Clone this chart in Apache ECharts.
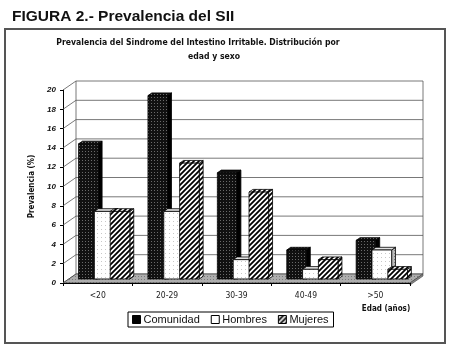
<!DOCTYPE html>
<html>
<head>
<meta charset="utf-8">
<script src="https://cdn.jsdelivr.net/npm/echarts@6/dist/echarts.min.js"></script>
<style>
  html, body { margin: 0; padding: 0; background: #fff; }
  #chart { width: 450px; height: 352px; }
</style>
</head>
<body>
<div id="chart"></div>
<script>
// data
const categories = ['<20', '20-29', '30-39', '40-49', '>50'];
const comunidad = [14, 19, 11, 3, 4];
const hombres = [7, 7, 2, 1, 3];
const mujeres = [7, 12, 9, 2, 1];
const yTicks = [0, 2, 4, 6, 8, 10, 12, 14, 16, 18, 20];

// 3D depth of the plot (front plane -> back wall), pixels
const DX = 13;
const DY = -9;
const FRONT = 0.45; // bar front face, fraction of depth
const BACK = 0.75;  // bar back face

const NARROW = '"DejaVu Sans Condensed", "Liberation Sans", sans-serif';

function makePattern(size, draw) {
  const c = document.createElement('canvas');
  c.width = c.height = size;
  const ctx = c.getContext('2d');
  draw(ctx, size);
  return { image: c, repeat: 'repeat' };
}

const dotsDark = makePattern(3, (ctx, s) => {
  ctx.fillStyle = '#111'; ctx.fillRect(0, 0, s, s);
  ctx.fillStyle = '#6a6a6a'; ctx.fillRect(1, 1, 1, 1);
});
const dotsLight = makePattern(4, (ctx, s) => {
  ctx.fillStyle = '#fff'; ctx.fillRect(0, 0, s, s);
  ctx.fillStyle = '#c8c8c8'; ctx.fillRect(1, 1, 1, 1);
});
const dotsGrey = makePattern(3, (ctx, s) => {
  ctx.fillStyle = '#bbb'; ctx.fillRect(0, 0, s, s);
  ctx.fillStyle = '#777'; ctx.fillRect(1, 1, 1, 1);
});
const floorPat = makePattern(3, (ctx, s) => {
  ctx.fillStyle = '#adadad'; ctx.fillRect(0, 0, s, s);
  ctx.fillStyle = '#7a7a7a'; ctx.fillRect(0, 0, 1, 1);
});
const hatch = makePattern(5, (ctx, s) => {
  ctx.fillStyle = '#fff'; ctx.fillRect(0, 0, s, s);
  ctx.strokeStyle = '#000'; ctx.lineWidth = 1.8;
  ctx.beginPath();
  ctx.moveTo(0, s); ctx.lineTo(s, 0);
  ctx.moveTo(-1, 1); ctx.lineTo(1, -1);
  ctx.moveTo(s - 1, s + 1); ctx.lineTo(s + 1, s - 1);
  ctx.stroke();
});

const barFills = [
  { front: dotsDark, top: dotsDark, side: '#000' },
  { front: dotsLight, top: '#e2e2e2', side: dotsGrey },
  { front: hatch, top: hatch, side: hatch }
];

function bar3d(slot) {
  return function (params, api) {
    const i = api.value(0);
    const v = api.value(1);
    const band = api.size([1, 0])[0];
    const cx = api.coord([i, 0])[0];
    const left = cx - band / 2 + band * (0.14 + slot * 0.228);
    const w = band * 0.283;
    const yTop = api.coord([i, v])[1];
    const yBot = api.coord([i, 0])[1];
    const ox = DX * FRONT, oy = DY * FRONT;
    const bx = DX * BACK, by = DY * BACK;
    const f = barFills[slot];
    const st = { stroke: '#000', lineWidth: 0.8 };
    return {
      type: 'group',
      children: [
        {
          type: 'polygon',
          shape: { points: [[left + ox + w, yTop + oy], [left + bx + w, yTop + by], [left + bx + w, yBot + by], [left + ox + w, yBot + oy]] },
          style: Object.assign({ fill: f.side }, st)
        },
        {
          type: 'polygon',
          shape: { points: [[left + ox, yTop + oy], [left + ox + w, yTop + oy], [left + bx + w, yTop + by], [left + bx, yTop + by]] },
          style: Object.assign({ fill: f.top }, st)
        },
        {
          type: 'rect',
          shape: { x: left + ox, y: yTop + oy, width: w, height: yBot - yTop },
          style: Object.assign({ fill: f.front }, st)
        }
      ]
    };
  };
}

const chart = echarts.init(document.getElementById('chart'));

const option = {
  animation: false,
  backgroundColor: '#fff',
  title: {
    text: 'FIGURA 2.- Prevalencia del SII',
    left: 7,
    top: 4,
    textStyle: { fontFamily: 'Liberation Sans', fontWeight: 'bold', fontSize: 15.5, color: '#111' }
  },
  graphic: [
    {
      type: 'rect',
      shape: { x: 5, y: 29, width: 440, height: 314 },
      style: { fill: 'none', stroke: '#555', lineWidth: 2 },
      z: -1
    },
    {
      type: 'text',
      x: 198, y: 43,
      style: {
        text: 'Prevalencia del Sindrome del Intestino Irritable. Distribución por',
        align: 'center', verticalAlign: 'middle',
        font: 'bold 8.6px ' + NARROW,
        fill: '#111'
      }
    },
    {
      type: 'text',
      x: 214, y: 57,
      style: {
        text: 'edad y sexo',
        align: 'center', verticalAlign: 'middle',
        font: 'bold 8.6px ' + NARROW,
        fill: '#111'
      }
    },
    {
      type: 'text',
      x: 386, y: 309,
      style: {
        text: 'Edad (años)',
        align: 'center', verticalAlign: 'middle',
        font: 'bold 8px ' + NARROW,
        fill: '#111'
      }
    }
  ],
  legend: {
    left: 128,
    top: 312,
    data: [
      { name: 'Comunidad', itemStyle: { color: '#000', borderColor: '#000', borderWidth: 1 } },
      { name: 'Hombres', itemStyle: { color: '#fff', borderColor: '#000', borderWidth: 1 } },
      { name: 'Mujeres', itemStyle: { color: hatch, borderColor: '#000', borderWidth: 1 } }
    ],
    icon: 'rect',
    itemWidth: 8,
    itemHeight: 8,
    itemGap: 11,
    borderColor: '#000',
    borderWidth: 1,
    padding: [2, 5, 2, 4],
    textStyle: { fontFamily: 'Liberation Sans', fontSize: 11, color: '#111', padding: [0, 0, 0, -2] }
  },
  grid: {
    left: 63,
    right: 40,
    top: 90,
    bottom: 69
  },
  xAxis: {
    type: 'category',
    data: categories,
    axisLine: { show: true, lineStyle: { color: '#000', width: 1 } },
    axisTick: { show: true, length: 3, lineStyle: { color: '#000' } },
    axisLabel: { fontFamily: NARROW, fontSize: 8.5, color: '#222', margin: 8 },
    z: 10
  },
  yAxis: {
    type: 'value',
    min: 0,
    max: 20,
    interval: 2,
    name: 'Prevalencia (%)',
    nameLocation: 'middle',
    nameGap: 27,
    nameRotate: 90,
    nameTextStyle: { fontFamily: NARROW, fontWeight: 'bold', fontSize: 8, color: '#111' },
    axisLine: { show: true, lineStyle: { color: '#000', width: 1 } },
    axisTick: { show: true, length: 3, lineStyle: { color: '#000' } },
    axisLabel: { fontFamily: 'Liberation Sans', fontWeight: 'bold', fontStyle: 'italic', fontSize: 8, color: '#111', margin: 7 },
    splitLine: { show: false }
  },
  series: [
    {
      // gridlines on side and back wall
      type: 'custom',
      silent: true,
      data: yTicks.map(v => [0, v]),
      renderItem: function (params, api) {
        const cs = params.coordSys;
        const y = api.coord([0, api.value(1)])[1];
        const x0 = cs.x, x1 = cs.x + cs.width;
        return {
          type: 'polyline',
          shape: { points: [[x0, y], [x0 + DX, y + DY], [x1 + DX, y + DY]] },
          style: { stroke: '#555', lineWidth: 0.8, fill: 'none' }
        };
      }
    },
    {
      // back wall edges and floor
      type: 'custom',
      silent: true,
      data: [[0, 0]],
      renderItem: function (params, api) {
        const cs = params.coordSys;
        const x0 = cs.x, x1 = cs.x + cs.width;
        const y0 = api.coord([0, yTicks[0]])[1];
        const yMax = api.coord([0, yTicks[yTicks.length - 1]])[1];
        return {
          type: 'group',
          children: [
            { type: 'line', shape: { x1: x0 + DX, y1: yMax + DY, x2: x0 + DX, y2: y0 + DY }, style: { stroke: '#555', lineWidth: 0.8 } },
            { type: 'line', shape: { x1: x1 + DX, y1: yMax + DY, x2: x1 + DX, y2: y0 + DY }, style: { stroke: '#555', lineWidth: 0.8 } },
            {
              type: 'polygon',
              shape: { points: [[x0, y0], [x1, y0], [x1 + DX, y0 + DY], [x0 + DX, y0 + DY]] },
              style: { fill: floorPat, stroke: '#444', lineWidth: 0.8 }
            },
            {
              type: 'polygon',
              shape: { points: [[x1, y0], [x1 + DX, y0 + DY], [x1 + DX, y0 + DY + 2], [x1, y0 + 2]] },
              style: { fill: '#888', stroke: '#444', lineWidth: 0.6 }
            }
          ]
        };
      }
    },
    {
      name: 'Comunidad',
      type: 'custom',
      data: comunidad.map((v, i) => [i, v]),
      renderItem: bar3d(0)
    },
    {
      name: 'Hombres',
      type: 'custom',
      data: hombres.map((v, i) => [i, v]),
      renderItem: bar3d(1)
    },
    {
      name: 'Mujeres',
      type: 'custom',
      data: mujeres.map((v, i) => [i, v]),
      renderItem: bar3d(2)
    }
  ]
};

chart.setOption(option);
</script>
</body>
</html>
